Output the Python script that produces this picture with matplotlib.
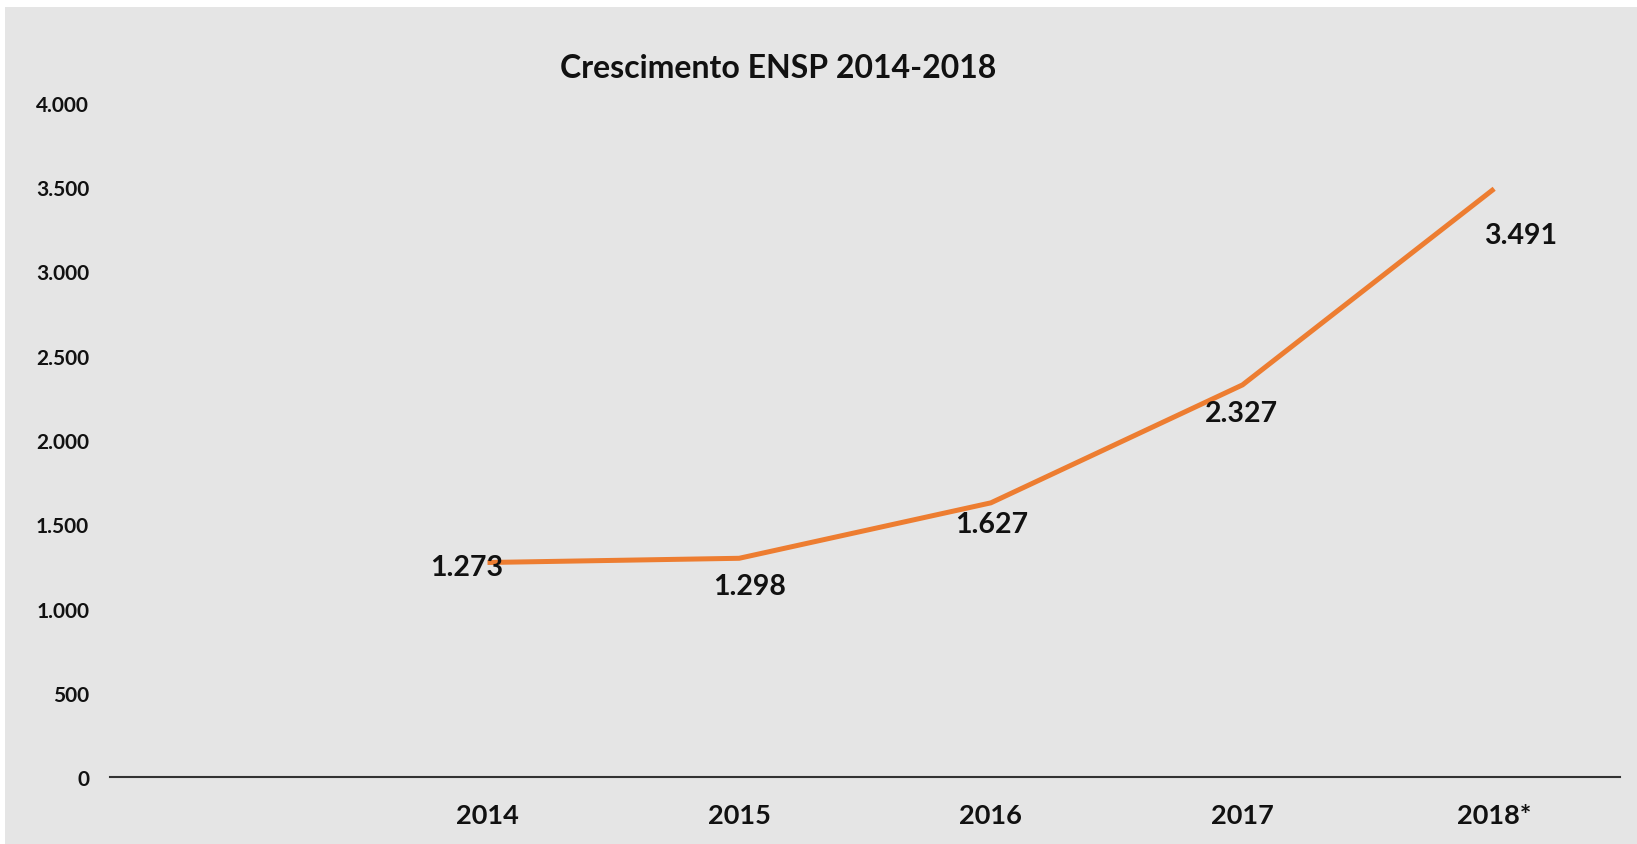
import matplotlib
matplotlib.use("Agg")
import matplotlib.pyplot as plt
from matplotlib.patches import Rectangle
from matplotlib.ticker import FuncFormatter

# dados
categorias = ["", "2014", "2015", "2016", "2017", "2018*"]
anos = ["2014", "2015", "2016", "2017", "2018*"]
valores = [1273, 1298, 1627, 2327, 3491]
rotulos = ["1.273", "1.298", "1.627", "2.327", "3.491"]
yticks = [0, 500, 1000, 1500, 2000, 2500, 3000, 3500, 4000]

# deslocamento dos rotulos (px)
desloc = [(-21, -5), (10, -28), (1, -21), (-1, -28), (26, -46)]

plt.rcParams['font.family'] = ['Lato', 'DejaVu Sans']
plt.rcParams['font.weight'] = 'bold'

fig = plt.figure(figsize=(16.37, 8.45), dpi=100)
fig.patch.set_facecolor('white')
fig.patches.append(Rectangle((5 / 1637, 0), 1, 1 - 8 / 845, transform=fig.transFigure,
                             facecolor='#e5e5e5', edgecolor='none', zorder=-10))

ax = fig.add_axes([110 / 1637, 67 / 845, 1510 / 1637, 674 / 845])
ax.set_facecolor('none')

x = list(range(len(categorias)))
ax.plot([categorias.index(a) for a in anos], valores, color='#ed7d31', lw=3.6, solid_capstyle='butt')

for a, v, r, (dx, dy) in zip(anos, valores, rotulos, desloc):
    ax.annotate(r, (categorias.index(a), v), xytext=(dx * 0.72, dy * 0.72), textcoords='offset points',
                ha='center', va='center', fontsize=20.5, fontweight='bold', color='#111111')

ax.set_xlim(-0.5, len(categorias) - 0.5)
ax.set_ylim(0, 4000)
ax.set_xticks(x)
ax.set_xticklabels(categorias, fontsize=19.5, fontweight='bold', color='#111111')
ax.set_yticks(yticks)
ax.yaxis.set_major_formatter(FuncFormatter(lambda v, p: f"{int(v):,}".replace(",", ".")))
for t in ax.get_yticklabels():
    t.set_fontsize(15)
    t.set_fontweight('bold')
    t.set_color('#111111')

ax.tick_params(axis='both', length=0)
ax.tick_params(axis='x', pad=19)
ax.tick_params(axis='y', pad=15)
for s in ['top', 'right', 'left']:
    ax.spines[s].set_visible(False)
ax.spines['bottom'].set_color('#333333')
ax.spines['bottom'].set_linewidth(1.5)

fig.text(778 / 1637, 1 - 68 / 845, "Crescimento ENSP 2014-2018", ha='center', va='center',
         fontsize=23, fontweight='bold', color='#111111')

fig.savefig("out.png", dpi=100, facecolor=fig.get_facecolor())
